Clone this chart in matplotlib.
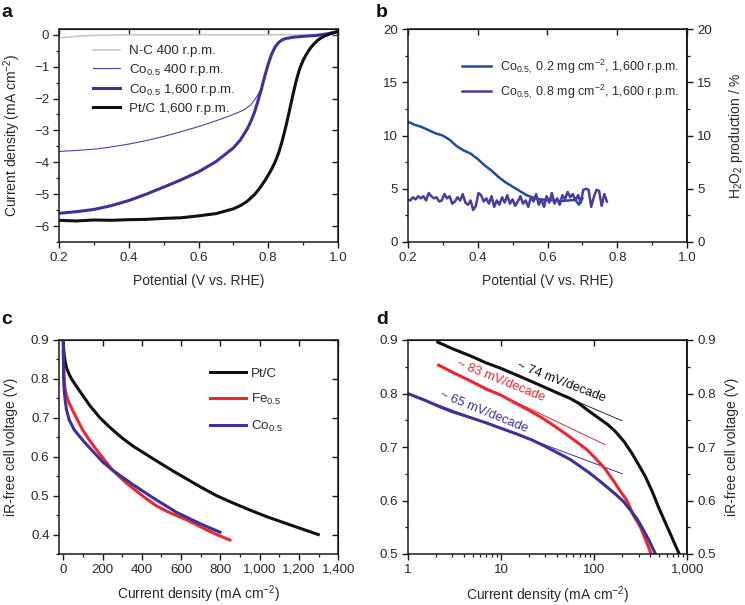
import matplotlib
matplotlib.use("Agg")
import matplotlib.pyplot as plt
from matplotlib.ticker import MultipleLocator, FixedLocator, FixedFormatter, NullLocator, LogLocator

plt.rcParams['font.family'] = ['Liberation Sans', 'DejaVu Sans']
plt.rcParams['mathtext.fontset'] = 'custom'
plt.rcParams['mathtext.rm'] = 'Liberation Sans'
plt.rcParams['mathtext.it'] = 'Liberation Sans:italic'
plt.rcParams['mathtext.bf'] = 'Liberation Sans:bold'
plt.rcParams['mathtext.default'] = 'regular'

TXT = '#2a2a2a'
BLUE = '#3b3399'
RED = '#ee2630'
BLK = '#111111'
GRAY = '#c8c8c8'

# ---------------- Panel a data ----------------
a_pt_E = [0.20, 0.25, 0.30, 0.35, 0.40, 0.45, 0.50, 0.55, 0.60, 0.65, 0.70, 0.72, 0.74, 0.76, 0.77,
          0.78, 0.79, 0.80, 0.81, 0.82, 0.83, 0.84, 0.85, 0.86, 0.87, 0.88, 0.89, 0.90, 0.91, 0.92,
          0.93, 0.94, 0.95, 0.96, 0.97, 0.98, 0.99, 1.00]
a_pt_j = [-5.82, -5.84, -5.81, -5.82, -5.80, -5.79, -5.76, -5.74, -5.68, -5.61, -5.46, -5.36, -5.22, -5.02, -4.89,
          -4.74, -4.58, -4.40, -4.21, -3.98, -3.70, -3.33, -2.90, -2.42, -1.92, -1.45, -1.07, -0.80, -0.60, -0.43,
          -0.30, -0.19, -0.11, -0.05, 0.00, 0.04, 0.07, 0.10]

a_co16_E = [0.20, 0.25, 0.30, 0.35, 0.40, 0.45, 0.50, 0.55, 0.60, 0.65, 0.70, 0.72, 0.74, 0.75, 0.76, 0.77,
            0.78, 0.79, 0.80, 0.81, 0.82, 0.83, 0.84, 0.85, 0.87, 0.90, 0.94, 0.97, 1.00]
a_co16_j = [-5.60, -5.55, -5.48, -5.36, -5.20, -5.00, -4.78, -4.55, -4.30, -3.98, -3.55, -3.30, -2.95, -2.72, -2.45, -2.10,
            -1.72, -1.30, -0.92, -0.60, -0.38, -0.24, -0.16, -0.12, -0.08, -0.05, -0.02, 0.03, 0.10]

a_co4_E = [0.20, 0.25, 0.30, 0.35, 0.40, 0.45, 0.50, 0.55, 0.60, 0.65, 0.70, 0.73, 0.75, 0.765,
           0.78, 0.79, 0.80, 0.81, 0.82, 0.83, 0.84, 0.85, 0.87, 0.90, 0.94, 0.97, 1.00]
a_co4_j = [-3.66, -3.63, -3.59, -3.52, -3.43, -3.32, -3.19, -3.04, -2.88, -2.70, -2.50, -2.36, -2.20, -1.98,
           -1.70, -1.30, -0.92, -0.60, -0.38, -0.24, -0.16, -0.12, -0.08, -0.05, -0.02, 0.03, 0.08]

a_nc_E = [0.20, 0.23, 0.26, 0.30, 0.35, 0.40, 0.60, 0.80, 0.95, 1.00]
a_nc_j = [-0.10, -0.07, -0.04, -0.02, -0.01, 0.00, 0.00, 0.00, 0.00, 0.01]

# ---------------- Panel b data ----------------
b_lo_E = [0.20, 0.22, 0.24, 0.26, 0.28, 0.30, 0.32, 0.34, 0.36, 0.38, 0.40, 0.42, 0.44, 0.46,
          0.48, 0.50, 0.52, 0.54, 0.56, 0.58, 0.60, 0.62, 0.64, 0.66, 0.68, 0.69, 0.70]
b_lo_h = [11.3, 11.0, 10.8, 10.5, 10.2, 10.0, 9.6, 9.0, 8.6, 8.3, 7.8, 7.2, 6.7, 6.1,
          5.6, 5.2, 4.8, 4.4, 4.15, 4.0, 3.95, 3.9, 3.85, 3.9, 3.95, 3.5, 4.1]

b_hi_E = [0.200, 0.2075, 0.215, 0.2225, 0.230, 0.2375, 0.245, 0.2525, 0.260, 0.2675, 0.275, 0.2825,
          0.290, 0.2975, 0.305, 0.3125, 0.320, 0.3275, 0.335, 0.3425, 0.350, 0.3575, 0.365, 0.3725,
          0.380, 0.3875, 0.395, 0.4025, 0.410, 0.4175, 0.425, 0.4325, 0.440, 0.4475, 0.455, 0.4625,
          0.470, 0.4775, 0.485, 0.4925, 0.500, 0.5075, 0.515, 0.5225, 0.530, 0.5375, 0.545, 0.5525,
          0.560, 0.5675, 0.575, 0.5825, 0.590, 0.5975, 0.605, 0.6125, 0.620, 0.6275, 0.635, 0.6425,
          0.650, 0.6575, 0.665, 0.6725, 0.680, 0.6875, 0.695, 0.7025, 0.710, 0.7175, 0.725, 0.7325,
          0.740, 0.7475, 0.755, 0.7625, 0.770]
b_hi_h = [4.0, 3.9, 4.2, 4.0, 4.3, 4.1, 4.3, 3.9, 4.6, 4.3, 4.1, 4.2,
          3.8, 3.9, 4.5, 4.1, 4.3, 3.6, 3.8, 4.2, 3.9, 4.5, 3.7, 3.5,
          3.9, 3.0, 3.4, 4.6, 4.4, 3.8, 4.1, 3.6, 4.3, 3.3, 3.9, 3.5,
          4.2, 3.7, 4.4, 3.6, 4.0, 3.4, 3.8, 4.3, 3.6, 3.9, 3.3, 4.2,
          3.8, 4.5, 3.5, 4.0, 3.3, 4.3, 3.7, 4.6, 3.6, 4.1, 3.5, 4.4,
          4.0, 4.7, 4.2, 4.5, 3.9, 4.4, 3.7, 4.9, 5.0, 4.9, 3.3, 4.2,
          4.9, 4.8, 3.4, 4.5, 3.8]

# ---------------- Panel c data ----------------
c_pt_j = [0, 3, 8, 17, 30, 42, 70, 100, 136, 187, 230, 263, 300, 356, 441, 492, 560, 628, 700, 780,
          860, 950, 1035, 1137, 1200, 1298]
c_pt_V = [0.90, 0.87, 0.85, 0.828, 0.812, 0.80, 0.779, 0.757, 0.731, 0.70, 0.679, 0.664, 0.648, 0.627,
          0.60, 0.584, 0.563, 0.543, 0.522, 0.50, 0.482, 0.463, 0.446, 0.428, 0.417, 0.40]
c_fe_j = [0, 2, 5, 9, 17, 30, 51, 75, 100, 130, 160, 200, 250, 322, 407, 470, 526, 580, 628, 680,
          730, 790, 848]
c_fe_V = [0.87, 0.84, 0.80, 0.775, 0.757, 0.738, 0.716, 0.692, 0.668, 0.645, 0.624, 0.598, 0.566, 0.532,
          0.498, 0.475, 0.46, 0.448, 0.438, 0.425, 0.412, 0.398, 0.386]
c_co_j = [0, 2, 5, 10, 17, 30, 56, 100, 136, 204, 255, 356, 458, 577, 696, 798]
c_co_V = [0.90, 0.80, 0.77, 0.745, 0.72, 0.695, 0.669, 0.642, 0.622, 0.585, 0.564, 0.528, 0.494, 0.457, 0.428, 0.406]

# ---------------- Panel d data ----------------
d_pt_j = [2.1, 3, 4.9, 7, 10, 15, 21.6, 30, 41.7, 55, 68, 85, 112, 140, 169, 210, 255, 300, 354,
          420, 490, 560, 630, 720, 820]
d_pt_V = [0.896, 0.884, 0.869, 0.857, 0.847, 0.834, 0.822, 0.811, 0.800, 0.791, 0.782, 0.769, 0.754,
          0.742, 0.729, 0.710, 0.688, 0.667, 0.645, 0.617, 0.588, 0.565, 0.545, 0.522, 0.500]
d_fe_j = [2.15, 3, 4.9, 7, 10, 14, 19.8, 28, 38.4, 50, 68, 85, 102, 130, 160, 190, 225, 265, 313,
          360, 410]
d_fe_V = [0.853, 0.840, 0.822, 0.808, 0.797, 0.783, 0.769, 0.754, 0.738, 0.724, 0.707, 0.694, 0.680,
          0.660, 0.638, 0.618, 0.600, 0.572, 0.551, 0.525, 0.500]
d_co_j = [1, 1.5, 2.15, 3, 4.9, 7, 10, 15, 21.6, 30, 41.7, 55, 68, 90, 112, 140, 169, 207, 245,
          290, 326, 390, 455]
d_co_V = [0.800, 0.788, 0.776, 0.766, 0.754, 0.745, 0.735, 0.724, 0.713, 0.701, 0.688, 0.677, 0.666,
          0.651, 0.638, 0.624, 0.612, 0.598, 0.582, 0.565, 0.550, 0.525, 0.500]
# Tafel fit lines (end points)
d_fit_pt_j = [2.1, 200]
d_fit_pt_V = [0.896, 0.749]
d_fit_fe_j = [2.15, 132]
d_fit_fe_V = [0.853, 0.704]
d_fit_co_j = [1, 200]
d_fit_co_V = [0.800, 0.650]

W, H = 745, 605
fig = plt.figure(figsize=(W / 100, H / 100), dpi=100)

def box(l, t, r, b):
    return [l / W, 1 - b / H, (r - l) / W, (b - t) / H]

axa = fig.add_axes(box(59, 29, 338, 242))
axb = fig.add_axes(box(407.7, 29, 687.3, 242))
axc = fig.add_axes(box(59.3, 340, 338.3, 554))
axd = fig.add_axes(box(407.7, 340, 687.3, 554))

FS = 9.6

def style(ax):
    for s in ax.spines.values():
        s.set_linewidth(1.1)
        s.set_color('#1a1a1a')
    ax.tick_params(which='major', direction='out', length=4, width=1.0, labelsize=FS, colors='#1a1a1a', labelcolor=TXT, pad=3)
    ax.tick_params(which='minor', direction='out', length=2.5, width=0.9, colors='#1a1a1a')

def inward(sec, axis='x'):
    sec.tick_params(which='major', direction='in', length=4, width=1.0, colors='#1a1a1a')
    if axis == 'x':
        sec.set_xticklabels([])
        sec.xaxis.set_minor_locator(NullLocator())
    else:
        sec.set_yticklabels([])
        sec.yaxis.set_minor_locator(NullLocator())

def flabel(x, y, s, rot=0):
    fig.text(x / W, 1 - y / H, s, fontsize=10, color=TXT, rotation=rot, ha='center', va='center')

# ---------------- Panel a ----------------
style(axa)
axa.plot(a_nc_E, a_nc_j, color=GRAY, lw=1.2, label='N-C 400 r.p.m.')
axa.plot(a_co4_E, a_co4_j, color='#4a42a8', lw=0.8, label='Co$_{0.5}$ 400 r.p.m.')
axa.plot(a_co16_E, a_co16_j, color=BLUE, lw=2.2, label='Co$_{0.5}$ 1,600 r.p.m.')
axa.plot(a_pt_E, a_pt_j, color=BLK, lw=2.2, label='Pt/C 1,600 r.p.m.')
axa.set_xlim(0.2, 1.0)
axa.set_ylim(-6.5, 0.18)
axa.xaxis.set_minor_locator(MultipleLocator(0.1))
axa.yaxis.set_minor_locator(MultipleLocator(0.5))
axa.set_xticks([0.2, 0.4, 0.6, 0.8, 1.0])
axa.set_xticklabels(['0.2', '0.4', '0.6', '0.8', '1.0'])
axa.set_yticks([0, -1, -2, -3, -4, -5, -6])
axa.set_yticklabels(['0', '\u22121', '\u22122', '\u22123', '\u22124', '\u22125', '\u22126'])
flabel(198.5, 281, 'Potential (V vs. RHE)')
flabel(12, 135.5, 'Current density (mA cm$^{-2}$)', 90)
sx = axa.secondary_xaxis('top'); inward(sx, 'x'); sx.set_xticks([0.2, 0.4, 0.6, 0.8, 1.0]); sx.set_xticklabels([])
sy = axa.secondary_yaxis('right'); inward(sy, 'y'); sy.set_yticks([0, -1, -2, -3, -4, -5, -6]); sy.set_yticklabels([])
leg = axa.legend(loc='upper left', bbox_to_anchor=(0.122, 0.925), frameon=False, fontsize=FS,
                 handlelength=2.0, handletextpad=0.7, labelspacing=0.33, borderpad=0, borderaxespad=0)
for t in leg.get_texts():
    t.set_color(TXT)

# ---------------- Panel b ----------------
style(axb)
axb.plot(b_lo_E, b_lo_h, color='#1f4ea0', lw=1.8, label='Co$_{0.5,}$ 0.2 mg cm$^{-2}$, 1,600 r.p.m.')
axb.plot(b_hi_E, b_hi_h, color='#4b3b9e', lw=1.8, label='Co$_{0.5,}$ 0.8 mg cm$^{-2}$, 1,600 r.p.m.')
axb.set_xlim(0.2, 1.0)
axb.set_ylim(0, 20)
axb.set_xticks([0.2, 0.4, 0.6, 0.8, 1.0])
axb.set_xticklabels(['0.2', '0.4', '0.6', '0.8', '1.0'])
axb.xaxis.set_minor_locator(MultipleLocator(0.1))
axb.set_yticks([0, 5, 10, 15, 20])
axb.yaxis.set_minor_locator(MultipleLocator(2.5))
flabel(547.5, 281, 'Potential (V vs. RHE)')
sx = axb.secondary_xaxis('top'); inward(sx, 'x'); sx.set_xticks([0.2, 0.4, 0.6, 0.8, 1.0]); sx.set_xticklabels([])
sy = axb.secondary_yaxis('right')
sy.set_yticks([0, 5, 10, 15, 20])
sy.yaxis.set_minor_locator(MultipleLocator(2.5))
sy.tick_params(which='major', direction='out', length=4, width=1.0, labelsize=FS, colors='#1a1a1a', labelcolor=TXT, pad=3)
sy.tick_params(which='minor', direction='out', length=2.5, width=0.9, colors='#1a1a1a')
sy.spines['right'].set_linewidth(1.1)
flabel(736, 135.5, 'H$_2$O$_2$ production / %', 90)
leg = axb.legend(loc='upper left', bbox_to_anchor=(0.194, 0.865), frameon=False, fontsize=9.0,
                 handlelength=2.3, handletextpad=0.75, labelspacing=0.5, borderpad=0, borderaxespad=0)
for t in leg.get_texts():
    t.set_color(TXT)

# ---------------- Panel c ----------------
style(axc)
axc.plot(c_pt_j, c_pt_V, color=BLK, lw=2.2, label='Pt/C')
axc.plot(c_fe_j, c_fe_V, color=RED, lw=2.2, label='Fe$_{0.5}$')
axc.plot(c_co_j, c_co_V, color=BLUE, lw=2.2, label='Co$_{0.5}$')
axc.set_xlim(-20, 1400)
axc.set_ylim(0.35, 0.9)
cx = [0, 200, 400, 600, 800, 1000, 1200, 1400]
axc.set_xticks(cx)
axc.set_xticklabels(['0', '200', '400', '600', '800', '1,000', '1,200', '1,400'])
axc.xaxis.set_minor_locator(MultipleLocator(100))
cy = [0.4, 0.5, 0.6, 0.7, 0.8, 0.9]
axc.set_yticks(cy)
axc.set_yticklabels(['0.4', '0.5', '0.6', '0.7', '0.8', '0.9'])
axc.yaxis.set_minor_locator(MultipleLocator(0.05))
flabel(198.5, 594, 'Current density (mA cm$^{-2}$)')
flabel(11, 447, 'iR-free cell voltage (V)', 90)
sx = axc.secondary_xaxis('top'); inward(sx, 'x'); sx.set_xticks(cx); sx.set_xticklabels([])
sy = axc.secondary_yaxis('right'); inward(sy, 'y'); sy.set_yticks(cy); sy.set_yticklabels([])
leg = axc.legend(loc='upper left', bbox_to_anchor=(0.54, 0.872), frameon=False, fontsize=FS,
                 handlelength=2.7, handletextpad=0.4, labelspacing=0.9, borderpad=0, borderaxespad=0)
for t in leg.get_texts():
    t.set_color(TXT)

# ---------------- Panel d ----------------
style(axd)
axd.set_xscale('log')
axd.plot(d_fit_pt_j, d_fit_pt_V, color=BLK, lw=0.6)
axd.plot(d_fit_fe_j, d_fit_fe_V, color=RED, lw=0.7)
axd.plot(d_fit_co_j, d_fit_co_V, color=BLUE, lw=0.7)
axd.plot(d_pt_j, d_pt_V, color=BLK, lw=2.2)
axd.plot(d_fe_j, d_fe_V, color=RED, lw=2.2)
axd.plot(d_co_j, d_co_V, color=BLUE, lw=2.2)
axd.set_xlim(1, 1000)
axd.set_ylim(0.5, 0.9)
axd.xaxis.set_major_locator(FixedLocator([1, 10, 100, 1000]))
axd.xaxis.set_major_formatter(FixedFormatter(['1', '10', '100', '1,000']))
axd.xaxis.set_minor_locator(LogLocator(base=10, subs=[2, 3, 4, 5, 6, 7, 8, 9]))
axd.xaxis.set_minor_formatter(FixedFormatter([]))
dy = [0.5, 0.6, 0.7, 0.8, 0.9]
axd.set_yticks(dy)
axd.set_yticklabels(['0.5', '0.6', '0.7', '0.8', '0.9'])
axd.yaxis.set_minor_locator(MultipleLocator(0.05))
flabel(547.5, 595, 'Current density (mA cm$^{-2}$)')
sx = axd.secondary_xaxis('top')
sx.xaxis.set_major_locator(FixedLocator([10, 100]))
sx.tick_params(which='major', direction='in', length=4, width=1.0, colors='#1a1a1a', labeltop=False)
sx.xaxis.set_minor_locator(NullLocator())
sy = axd.secondary_yaxis('right')
sy.set_yticks(dy)
sy.set_yticklabels(['0.5', '0.6', '0.7', '0.8', '0.9'])
sy.yaxis.set_minor_locator(MultipleLocator(0.05))
sy.tick_params(which='major', direction='out', length=4, width=1.0, labelsize=FS, colors='#1a1a1a', labelcolor=TXT, pad=3)
sy.tick_params(which='minor', direction='out', length=2.5, width=0.9, colors='#1a1a1a')
sy.spines['right'].set_linewidth(1.1)
flabel(732, 447, 'iR-free cell voltage (V)', 90)
AFS = 9.3
axd.text(44, 0.822, '~ 74 mV/decade', color=BLK, fontsize=AFS, rotation=-21,
         ha='center', va='center', rotation_mode='anchor')
axd.text(9.9, 0.823, '~ 83 mV/decade', color=RED, fontsize=AFS, rotation=-22,
         ha='center', va='center', rotation_mode='anchor')
axd.text(6.5, 0.766, '~ 65 mV/decade', color=BLUE, fontsize=AFS, rotation=-22,
         ha='center', va='center', rotation_mode='anchor')

# panel letters
for lab, x, y in [('a', 1, 4), ('b', 376, 4), ('c', 1, 311), ('d', 376, 311)]:
    fig.text(x / W, 1 - y / H, lab, fontsize=14, fontweight='bold', va='top', ha='left', color='#111111')

fig.savefig('out.png', dpi=100)
